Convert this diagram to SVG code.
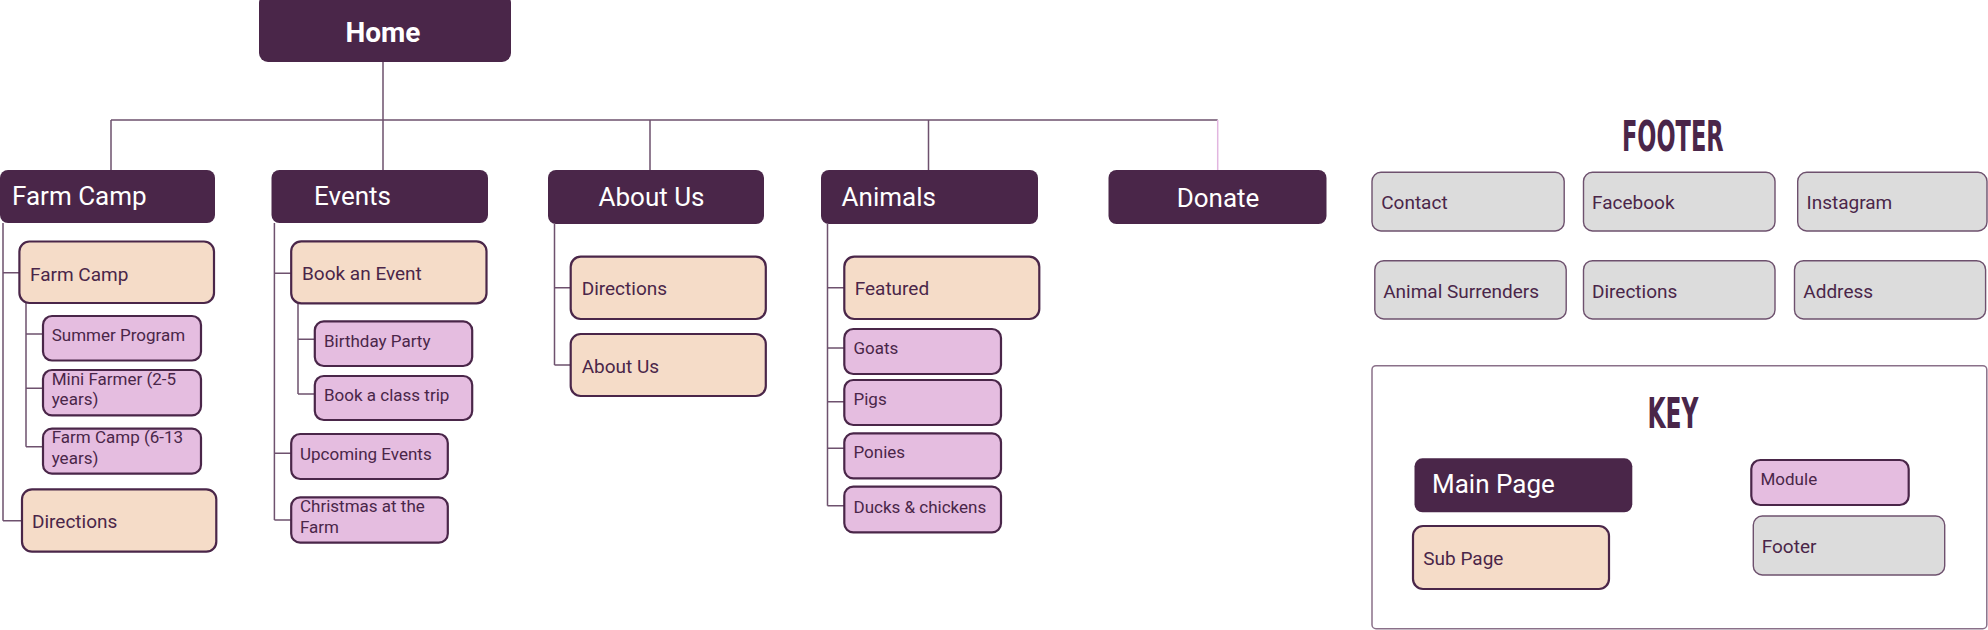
<svg xmlns="http://www.w3.org/2000/svg" width="1988" height="630" viewBox="0 0 1988 630">
<style>
.main{fill:#4a2649}
.sub{fill:#f5dcc8;stroke:#4a2649;stroke-width:2.2}
.mod{fill:#e5bde0;stroke:#4a2649;stroke-width:2.2}
.foot{fill:#dcdcdc;stroke:#6e516e;stroke-width:1.4}
.mt{font-family:Roboto,"Liberation Sans",sans-serif;font-size:26px;fill:#ffffff}
.st{font-family:Roboto,"Liberation Sans",sans-serif;font-size:19px;fill:#4a2649}
.modt{font-family:Roboto,"Liberation Sans",sans-serif;font-size:17px;fill:#4a2649}
.ft{font-family:Roboto,"Liberation Sans",sans-serif;font-size:19px;fill:#4a2649}
.title{font-family:"DejaVu Sans Condensed","DejaVu Sans",sans-serif;font-weight:bold;font-size:42px;fill:#4a2649}
.con{fill:none;stroke:#6e516e;stroke-width:1.5}
</style>
<g id="connectors">
<path class="con" d="M383,62V120M111,120H1217.7M111,120V170M383,120V170M650,120V170M928.5,120V170"/>
<path fill="none" stroke="#e2b6e0" stroke-width="1.5" d="M1217.7,120V170"/>
<path class="con" d="M3,223V520.7M3,272.7H19.4M3,520.7H22M26,303V446.7M26,334H43.4M26,388.3H43.4M26,446.7H43.4"/>
<path class="con" d="M274.4,223V520M274.4,273.3H291M274.4,453.3H291M274.4,520H291M298,303V394M298,339.3H314.8M298,394H314.8"/>
<path class="con" d="M554.5,224V365M554.5,287.7H570.7M554.5,365H570.7"/>
<path class="con" d="M827.5,224V505.7M827.5,287.7H844M827.5,348H844M827.5,401.7H844M827.5,448.3H844M827.5,505.7H844"/>
</g>
<g id="home"><rect class="main" x="259" y="-6" width="252" height="68" rx="9"/><text x="383" y="42" text-anchor="middle" font-family="Roboto,'Liberation Sans',sans-serif" font-size="28" font-weight="bold" fill="#fff">Home</text></g>
<g id="farmcamp"><rect class="main" x="0" y="170" width="215" height="53" rx="8"/><text class="mt" x="12" y="205">Farm Camp</text></g>
<g id="events"><rect class="main" x="271.5" y="170" width="216.5" height="53" rx="8"/><text class="mt" x="314" y="205">Events</text></g>
<g id="aboutus"><rect class="main" x="548" y="170" width="216" height="54" rx="8"/><text class="mt" x="598.5" y="206">About Us</text></g>
<g id="animals"><rect class="main" x="821" y="170" width="217" height="54" rx="8"/><text class="mt" x="841.6" y="206">Animals</text></g>
<g id="donate"><rect class="main" x="1108.5" y="170" width="218" height="54" rx="8"/><text class="mt" x="1218" y="206.7" text-anchor="middle">Donate</text></g>

<g id="fc-farmcamp"><rect class="sub" x="19.4" y="241.5" width="194.6" height="61.5" rx="10"/><text class="st" x="30" y="280.5">Farm Camp</text></g>
<g id="fc-summer"><rect class="mod" x="43" y="316" width="158" height="44.5" rx="9"/><text class="modt" x="51.7" y="340.7">Summer Program</text></g>
<g id="fc-mini"><rect class="mod" x="43" y="370" width="158" height="45.3" rx="9"/><text class="modt" x="51.7" y="385">Mini Farmer (2-5</text><text class="modt" x="51.7" y="405.3">years)</text></g>
<g id="fc-camp613"><rect class="mod" x="43" y="428.7" width="158" height="45" rx="9"/><text class="modt" x="51.7" y="443.3">Farm Camp (6-13</text><text class="modt" x="51.7" y="464">years)</text></g>
<g id="fc-directions"><rect class="sub" x="22" y="489.3" width="194.3" height="62.4" rx="10"/><text class="st" x="32" y="528.3">Directions</text></g>

<g id="ev-book"><rect class="sub" x="291.2" y="241.3" width="195.3" height="62" rx="10"/><text class="st" x="302" y="280">Book an Event</text></g>
<g id="ev-birthday"><rect class="mod" x="314.8" y="321.3" width="157.4" height="44.7" rx="9"/><text class="modt" x="324" y="346.7">Birthday Party</text></g>
<g id="ev-class"><rect class="mod" x="314.8" y="376" width="157.4" height="44" rx="9"/><text class="modt" x="324" y="400.7">Book a class trip</text></g>
<g id="ev-upcoming"><rect class="mod" x="291.2" y="434" width="156.6" height="45" rx="9"/><text class="modt" x="300" y="460">Upcoming Events</text></g>
<g id="ev-christmas"><rect class="mod" x="291.2" y="497.3" width="156.6" height="45.4" rx="9"/><text class="modt" x="300" y="512.3">Christmas at the</text><text class="modt" x="300" y="532.7">Farm</text></g>

<g id="ab-directions"><rect class="sub" x="570.7" y="256.7" width="195.1" height="62.3" rx="10"/><text class="st" x="581.7" y="295">Directions</text></g>
<g id="ab-aboutus"><rect class="sub" x="570.7" y="334" width="195.1" height="62" rx="10"/><text class="st" x="581.7" y="372.7">About Us</text></g>

<g id="an-featured"><rect class="sub" x="844.3" y="256.7" width="195" height="62.3" rx="10"/><text class="st" x="854.7" y="295">Featured</text></g>
<g id="an-goats"><rect class="mod" x="844.3" y="329" width="156.7" height="45" rx="9"/><text class="modt" x="853.5" y="354.3">Goats</text></g>
<g id="an-pigs"><rect class="mod" x="844.3" y="380" width="156.7" height="45" rx="9"/><text class="modt" x="853.5" y="405">Pigs</text></g>
<g id="an-ponies"><rect class="mod" x="844.3" y="433.3" width="156.7" height="45" rx="9"/><text class="modt" x="853.5" y="458.3">Ponies</text></g>
<g id="an-ducks"><rect class="mod" x="844.3" y="486.7" width="156.7" height="45.6" rx="9"/><text class="modt" x="853.5" y="512.7">Ducks &amp; chickens</text></g>

<g id="footer-title"><text class="title" x="1622" y="150.7" textLength="101.6" lengthAdjust="spacingAndGlyphs">FOOTER</text></g>
<g id="ft-contact"><rect class="foot" x="1372" y="172.3" width="192.2" height="58.7" rx="9"/><text class="ft" x="1381.2" y="209.3">Contact</text></g>
<g id="ft-facebook"><rect class="foot" x="1583.5" y="172.3" width="191.5" height="58.7" rx="9"/><text class="ft" x="1592" y="209.3">Facebook</text></g>
<g id="ft-instagram"><rect class="foot" x="1797.7" y="172.3" width="189.3" height="58.7" rx="9"/><text class="ft" x="1806.5" y="209.3">Instagram</text></g>
<g id="ft-surrenders"><rect class="foot" x="1374.8" y="260.7" width="191.4" height="58.3" rx="9"/><text class="ft" x="1383.2" y="297.7">Animal Surrenders</text></g>
<g id="ft-directions"><rect class="foot" x="1583.5" y="260.7" width="191.5" height="58.3" rx="9"/><text class="ft" x="1592" y="297.7">Directions</text></g>
<g id="ft-address"><rect class="foot" x="1794.5" y="260.7" width="191.1" height="58.3" rx="9"/><text class="ft" x="1803.3" y="297.7">Address</text></g>

<g id="key">
<rect x="1372" y="365.7" width="614.8" height="263" rx="4" fill="#ffffff" stroke="#8a7089" stroke-width="1.5"/>
<text class="title" x="1647.5" y="427.7" textLength="51" lengthAdjust="spacingAndGlyphs">KEY</text>
<g id="key-main"><rect class="main" x="1414.5" y="458.3" width="217.8" height="54" rx="8"/><text class="mt" x="1432" y="493.3">Main Page</text></g>
<g id="key-sub"><rect class="sub" x="1413" y="526" width="196" height="63" rx="10"/><text class="st" x="1423.3" y="565">Sub Page</text></g>
<g id="key-module"><rect class="mod" x="1751.3" y="460" width="157.4" height="45" rx="9"/><text class="modt" x="1760.5" y="485">Module</text></g>
<g id="key-footer"><rect class="foot" x="1753.3" y="516" width="191.4" height="59" rx="9"/><text class="ft" x="1761.7" y="552.7">Footer</text></g>
</g>
</svg>
